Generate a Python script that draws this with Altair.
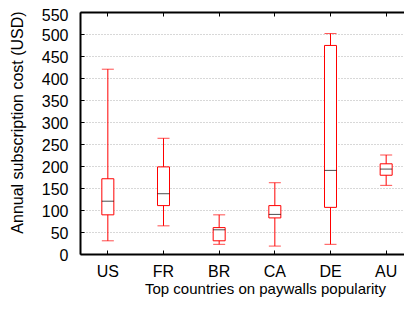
import altair as alt
import pandas as pd

countries = ["US", "FR", "BR", "CA", "DE", "AU"]
whisker_low = [30, 64, 22, 18, 22, 156]
q1 = [89, 110, 30, 82, 106, 179]
median = [120, 137, 55, 90, 190, 193]
q3 = [171, 198, 60, 110, 474, 205]
whisker_high = [420, 263, 89, 162, 501, 225]
y_ticks = list(range(0, 551, 50))

df = pd.DataFrame({
    "country": countries,
    "lo": whisker_low,
    "q1": q1,
    "med": median,
    "q3": q3,
    "hi": whisker_high,
})

W, H = 334, 242
FONT = "Liberation Sans"
RED = "#ff0000"

xscale = alt.Scale(type="band", domain=countries, paddingInner=0, paddingOuter=0)
yscale = alt.Scale(domain=[0, 550], nice=False, zero=True)

base = alt.Chart(df)

# main axes (labels, titles, grid, left & bottom borders)
whiskers = base.mark_rule(color=RED, strokeWidth=1).encode(
    x=alt.X("country:N", scale=xscale, sort=countries,
            axis=alt.Axis(orient="bottom", title="Top countries on paywalls popularity",
                          labelAngle=0, ticks=False, domain=True, domainColor="black",
                          domainWidth=2, labelFontSize=16, titleFontSize=15,
                          labelPadding=9, titlePadding=2, titleX=185,
                          labelFont=FONT, titleFont=FONT,
                          labelColor="black", titleColor="black", titleFontWeight="normal",
                          grid=False)),
    y=alt.Y("lo:Q", scale=yscale,
            axis=alt.Axis(orient="left", values=y_ticks, title="Annual subscription cost (USD)",
                          grid=True, gridColor="#b0b0b0", gridDash=[1, 2], gridWidth=1,
                          ticks=False, domain=True, domainColor="black", domainWidth=2,
                          labelFontSize=16, titleFontSize=16, labelPadding=12,
                          labelOffset={"condition": {"test": "datum.value === 550", "value": 3},
                                       "value": 1.5},
                          titleX=-63, titleY=110, titleBaseline="middle", titleAngle=270,
                          labelFont=FONT, titleFont=FONT, labelColor="black",
                          titleColor="black", titleFontWeight="normal")),
    y2="hi:Q",
)

low_caps = base.mark_tick(color=RED, size=12, thickness=1).encode(
    x=alt.X("country:N", scale=xscale, sort=countries, axis=None),
    y=alt.Y("lo:Q", scale=yscale, axis=None),
)
high_caps = base.mark_tick(color=RED, size=12, thickness=1).encode(
    x=alt.X("country:N", scale=xscale, sort=countries, axis=None),
    y=alt.Y("hi:Q", scale=yscale, axis=None),
)

# box; carries top border with inward ticks and left inward ticks
boxes = base.mark_bar(size=12, fill="white", stroke=RED, strokeWidth=1).encode(
    x=alt.X("country:N", scale=xscale, sort=countries,
            axis=alt.Axis(orient="bottom", offset=-H, labels=False, ticks=True, tickSize=4,
                          tickColor="black", domain=True, domainColor="black", domainWidth=2,
                          title=None, grid=False)),
    y=alt.Y("q1:Q", scale=yscale,
            axis=alt.Axis(orient="right", offset=-W, values=y_ticks, labels=False, ticks=True,
                          tickSize=4, tickColor="black", domain=False, title=None, grid=False)),
    y2="q3:Q",
)

# median; carries bottom inward ticks and right border with inward ticks
medians = base.mark_tick(color="black", size=12, thickness=1).encode(
    x=alt.X("country:N", scale=xscale, sort=countries,
            axis=alt.Axis(orient="top", offset=-H, labels=False, ticks=True, tickSize=4,
                          tickColor="black", domain=False, title=None, grid=False)),
    y=alt.Y("med:Q", scale=yscale,
            axis=alt.Axis(orient="left", offset=-W, values=y_ticks, labels=False, ticks=True,
                          tickSize=4, tickColor="black", domain=True, domainColor="black",
                          domainWidth=2, title=None, grid=False)),
)

chart = alt.layer(whiskers, low_caps, high_caps, boxes, medians).resolve_axis(
    x="independent", y="independent"
).properties(
    width=W, height=H,
    autosize=alt.AutoSizeParams(type="none"),
    padding={"left": 72, "top": 4, "right": -10, "bottom": 50},
    background="white",
).configure_view(stroke=None)

chart.save("out.html", embed_options={"renderer": "svg", "actions": False})
